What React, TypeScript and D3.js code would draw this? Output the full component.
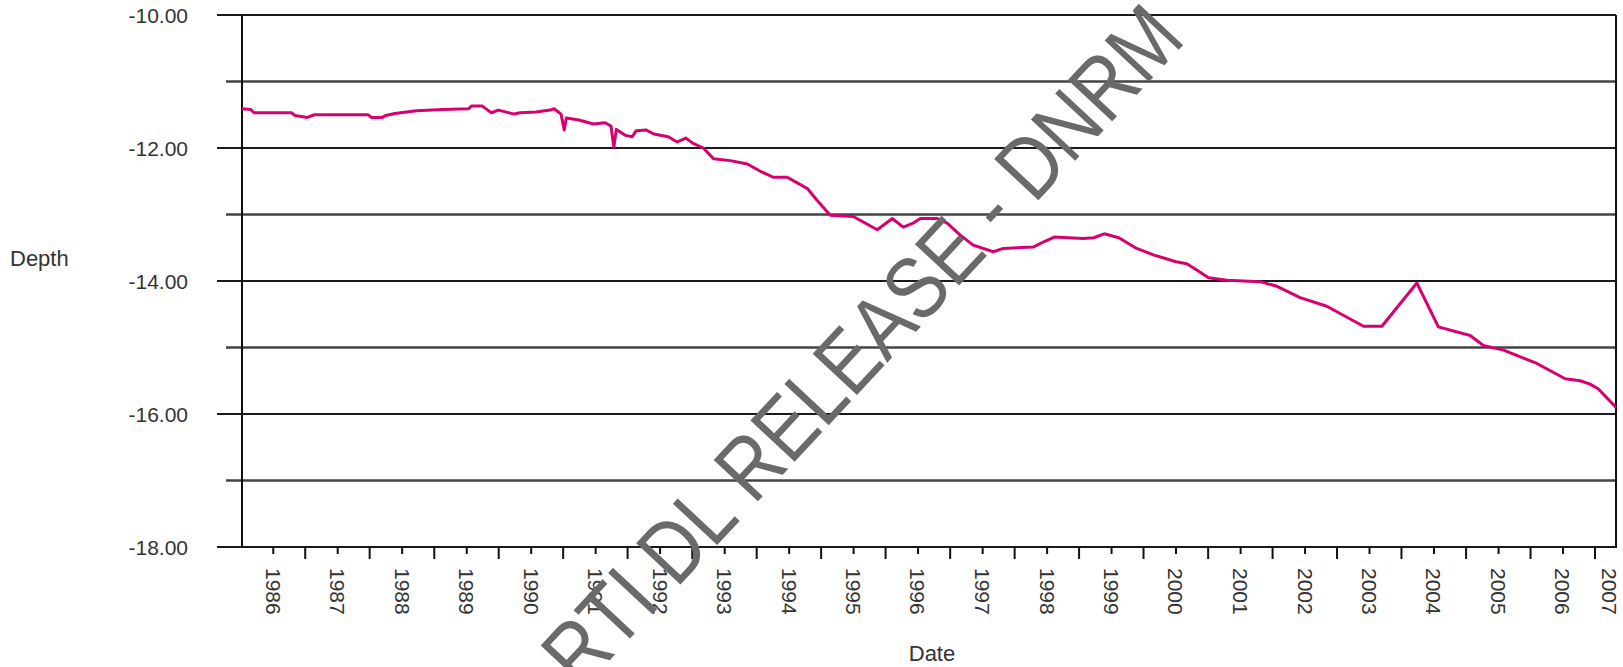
import * as d3 from "d3";
import { useEffect, useRef } from "react";

// water level readings (date, depth in m)
const dates = [
  "1985-07-08", "1985-08-25", "1985-09-14", "1986-04-14", "1986-05-04", "1986-07-13", "1986-08-22",
  "1987-06-23", "1987-07-10", "1987-09-11", "1987-10-01", "1987-11-21", "1988-03-22", "1988-08-21",
  "1989-01-10", "1989-01-27", "1989-03-30", "1989-04-30", "1989-05-20", "1989-06-29", "1989-09-27",
  "1989-10-29", "1990-01-28", "1990-04-19", "1990-05-10", "1990-06-19", "1990-07-07", "1990-07-19",
  "1990-09-28", "1990-12-19", "1991-02-24", "1991-03-29", "1991-04-14", "1991-04-28", "1991-06-18",
  "1991-07-27", "1991-08-19", "1991-10-15", "1991-11-26", "1992-02-16", "1992-04-07", "1992-05-25",
  "1992-07-06", "1992-09-02", "1992-10-29", "1993-02-02", "1993-05-09", "1993-07-22", "1993-10-03",
  "1993-12-21", "1994-01-24", "1994-04-14", "1994-06-09", "1994-08-22", "1994-12-30", "1995-05-15",
  "1995-08-08", "1995-10-09", "1995-12-04", "1996-01-13", "1996-04-18", "1996-06-14", "1996-08-27",
  "1996-11-08", "1997-03-02", "1997-04-28", "1997-10-14", "1997-12-13", "1998-02-10", "1998-07-24",
  "1998-09-22", "1998-11-20", "1999-02-11", "1999-05-23", "1999-08-30", "2000-01-01", "2000-03-02",
  "2000-04-30", "2000-07-03", "2000-10-16", "2001-04-22", "2001-07-26", "2001-12-04", "2002-05-04",
  "2002-11-28", "2003-03-12", "2003-09-26", "2004-01-26", "2004-07-24", "2004-10-07", "2005-01-29",
  "2005-08-06", "2006-01-13", "2006-04-08", "2006-06-03", "2006-07-19", "2006-10-28",
];

const depths = [
  -11.41, -11.42, -11.47, -11.47, -11.51, -11.54, -11.5,
  -11.5, -11.54, -11.54, -11.51, -11.48, -11.44, -11.42,
  -11.41, -11.37, -11.37, -11.43, -11.47, -11.43, -11.49,
  -11.47, -11.46, -11.43, -11.41, -11.49, -11.73, -11.55,
  -11.58, -11.64, -11.62, -11.67, -11.99, -11.72, -11.81,
  -11.83, -11.74, -11.73, -11.79, -11.83, -11.91, -11.85,
  -11.93, -12.0, -12.16, -12.19, -12.24, -12.35, -12.44,
  -12.44, -12.49, -12.61, -12.79, -13.01, -13.03, -13.23,
  -13.06, -13.19, -13.13, -13.06, -13.06, -13.13, -13.31,
  -13.46, -13.56, -13.51, -13.49, -13.41, -13.34, -13.36,
  -13.35, -13.29, -13.35, -13.51, -13.61, -13.71, -13.74,
  -13.84, -13.95, -13.99, -14.01, -14.08, -14.25, -14.38,
  -14.68, -14.68, -14.03, -14.69, -14.82, -14.97, -15.04,
  -15.24, -15.47, -15.5, -15.55, -15.62, -15.9,
];

const yLabelTicks = [-10, -12, -14, -16, -18];
const yGridLines = [-10, -11, -12, -13, -14, -15, -16, -17, -18];
const yearLabels = [
  "1986", "1987", "1988", "1989", "1990", "1991", "1992", "1993", "1994", "1995", "1996",
  "1997", "1998", "1999", "2000", "2001", "2002", "2003", "2004", "2005", "2006", "2007",
];
const watermark = "RTI DL RELEASE - DNRM";

export default function App() {
  const svgRef = useRef<SVGSVGElement | null>(null);
  const width = 1623;
  const height = 667;

  useEffect(() => {
    const svg = d3.select(svgRef.current);
    svg.selectAll("*").remove();

    const left = 242;
    const right = 1616;
    const top = 15;
    const bottom = 547;
    const font = "'Liberation Sans', Arial, sans-serif";

    const parse = d3.timeParse("%Y-%m-%d");
    const pts = dates.map((d, i) => ({ date: parse(d) as Date, depth: depths[i] }));

    const x = d3
      .scaleTime()
      .domain([pts[0].date, pts[pts.length - 1].date])
      .range([left, right]);
    const y = d3.scaleLinear().domain([-18, -10]).range([bottom, top]);

    svg.append("rect").attr("width", width).attr("height", height).attr("fill", "#fff");

    // horizontal grid lines
    svg
      .append("g")
      .selectAll("line")
      .data(yGridLines)
      .join("line")
      .attr("x1", (d) => (d % 2 === 0 ? left - 25 : left - 16))
      .attr("x2", right)
      .attr("y1", (d) => y(d))
      .attr("y2", (d) => y(d))
      .attr("stroke", (d) => (d % 2 === 0 ? "#1a1a1a" : "#444"))
      .attr("stroke-width", (d) => (d % 2 === 0 ? 2 : 2.5));

    // frame sides
    svg
      .append("line")
      .attr("x1", left)
      .attr("x2", left)
      .attr("y1", top)
      .attr("y2", bottom)
      .attr("stroke", "#111")
      .attr("stroke-width", 2);
    svg
      .append("line")
      .attr("x1", right)
      .attr("x2", right)
      .attr("y1", top)
      .attr("y2", bottom + 1)
      .attr("stroke", "#111")
      .attr("stroke-width", 2);

    // y labels
    svg
      .append("g")
      .selectAll("text")
      .data(yLabelTicks)
      .join("text")
      .attr("x", 188)
      .attr("y", (d) => y(d))
      .attr("dy", "0.36em")
      .attr("text-anchor", "end")
      .attr("font-family", font)
      .attr("font-size", 21)
      .attr("fill", "#333")
      .text((d) => d.toFixed(2));

    // x ticks: labelled on Jan, unlabelled mid-year
    const ticks = x.ticks(d3.timeMonth.every(6) as d3.TimeInterval);
    svg
      .append("g")
      .selectAll("line")
      .data(ticks)
      .join("line")
      .attr("x1", (d) => x(d))
      .attr("x2", (d) => x(d))
      .attr("y1", bottom)
      .attr("y2", (d) => bottom + (d.getMonth() === 0 ? 7 : 12))
      .attr("stroke", "#111")
      .attr("stroke-width", 2);

    svg
      .append("g")
      .selectAll("text")
      .data(yearLabels)
      .join("text")
      .attr("transform", (d) => {
        const px = Math.min(x(new Date(+d, 0, 1)), right - 6);
        return `translate(${px},${bottom + 21}) rotate(90)`;
      })
      .attr("dy", "0.36em")
      .attr("font-family", font)
      .attr("font-size", 21)
      .attr("fill", "#333")
      .text((d) => d);

    // axis titles
    svg
      .append("text")
      .attr("x", 10)
      .attr("y", 266)
      .attr("font-family", font)
      .attr("font-size", 22)
      .attr("fill", "#333")
      .text("Depth");
    svg
      .append("text")
      .attr("x", 932)
      .attr("y", 661)
      .attr("text-anchor", "middle")
      .attr("font-family", font)
      .attr("font-size", 22)
      .attr("fill", "#333")
      .text("Date");

    // the series
    const line = d3
      .line<{ date: Date; depth: number }>()
      .x((d) => x(d.date))
      .y((d) => y(d.depth));
    svg
      .append("path")
      .datum(pts)
      .attr("d", line)
      .attr("fill", "none")
      .attr("stroke", "#d8006e")
      .attr("stroke-width", 3)
      .attr("stroke-linejoin", "round");

    // watermark
    svg
      .append("text")
      .attr("transform", "translate(884,366) rotate(-47) scale(0.85,1)")
      .attr("text-anchor", "middle")
      .attr("font-family", font)
      .attr("font-size", 88)
      .attr("fill", "#6a6a6a")
      .text(watermark);
  }, []);

  return (
    <div>
      <svg
        ref={svgRef}
        width={width}
        height={height}
        style={{ position: "absolute", left: 0, top: 0, display: "block" }}
      ></svg>
    </div>
  );
}
